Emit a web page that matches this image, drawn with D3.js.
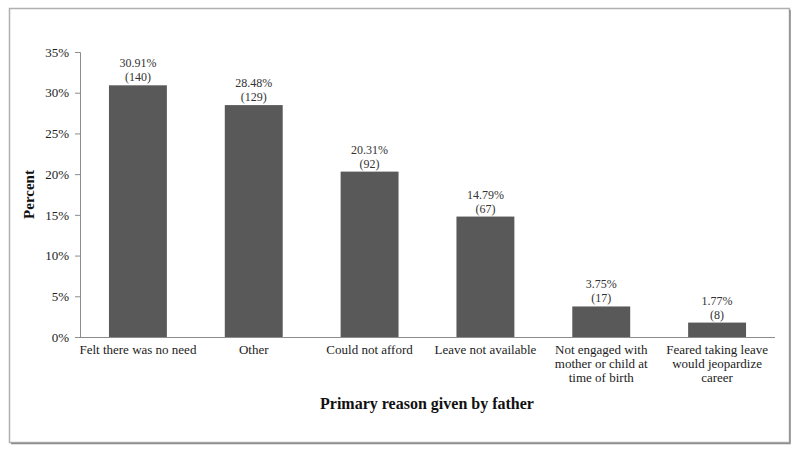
<!DOCTYPE html>
<html>
<head>
<meta charset="utf-8">
<script src="https://cdn.jsdelivr.net/npm/d3@7"></script>
<style>
  body { margin: 0; background: #fff; }
  text { font-family: "Liberation Serif", "Times New Roman", serif; }
</style>
</head>
<body>
<svg width="800" height="449"></svg>
<script>
// data
var categories = [
  ["Felt there was no need"],
  ["Other"],
  ["Could not afford"],
  ["Leave not available"],
  ["Not engaged with", "mother or child at", "time of birth"],
  ["Feared taking leave", "would jeopardize", "career"]
];
var percents = [30.91, 28.48, 20.31, 14.79, 3.75, 1.77];
var counts = [140, 129, 92, 67, 17, 8];
var yTicks = [0, 5, 10, 15, 20, 25, 30, 35];

var svg = d3.select("svg");

// outer frame with a little shadow on right/bottom
svg.append("rect")
  .attr("x", 9.5).attr("y", 8.5).attr("width", 780).attr("height", 434)
  .attr("fill", "none").attr("stroke", "#b0b0b0").attr("stroke-width", 1.5);
svg.append("path")
  .attr("d", "M790,10 V443.5 H11")
  .attr("fill", "none").attr("stroke", "#8c8c8c").attr("stroke-width", 1.5);

var plotLeft = 80, plotRight = 775, plotTop = 52, plotBottom = 337;

var x = d3.scaleBand()
  .domain(d3.range(categories.length))
  .range([plotLeft, plotRight])
  .paddingInner(0.5)
  .paddingOuter(0.25);

var y = d3.scaleLinear().domain([0, 35]).range([plotBottom, plotTop]);

// y axis
var yAxis = svg.append("g")
  .attr("transform", "translate(" + plotLeft + ",0)")
  .call(d3.axisLeft(y).tickValues(yTicks).tickSize(5).tickPadding(6)
    .tickFormat(function(d) { return d + "%"; }));
yAxis.selectAll("line, path").attr("stroke", "#8c8c8c");
yAxis.selectAll("text").attr("font-size", 13).attr("fill", "#222")
  .style("font-family", "Liberation Serif");

// bars
svg.selectAll("rect.bar")
  .data(percents)
  .enter().append("rect")
  .attr("class", "bar")
  .attr("x", function(d, i) { return x(i); })
  .attr("width", x.bandwidth())
  .attr("y", function(d) { return y(d); })
  .attr("height", function(d) { return plotBottom - y(d); })
  .attr("fill", "#595959");

// x axis baseline
svg.append("line")
  .attr("x1", plotLeft).attr("x2", plotRight)
  .attr("y1", plotBottom + 0.5).attr("y2", plotBottom + 0.5)
  .attr("stroke", "#8c8c8c");

// value labels
var lab = svg.selectAll("text.val")
  .data(percents)
  .enter().append("text")
  .attr("class", "val")
  .attr("text-anchor", "middle")
  .attr("font-size", 12)
  .attr("fill", "#333");
lab.append("tspan")
  .attr("x", function(d, i) { return x(i) + x.bandwidth() / 2; })
  .attr("y", function(d) { return y(d) - 18; })
  .text(function(d) { return d.toFixed(2) + "%"; });
lab.append("tspan")
  .attr("x", function(d, i) { return x(i) + x.bandwidth() / 2; })
  .attr("y", function(d) { return y(d) - 4; })
  .text(function(d, i) { return "(" + counts[i] + ")"; });

// category labels
svg.selectAll("text.cat")
  .data(categories)
  .enter().append("text")
  .attr("class", "cat")
  .attr("text-anchor", "middle")
  .attr("font-size", 13)
  .attr("fill", "#222")
  .each(function(lines, i) {
    var t = d3.select(this);
    lines.forEach(function(s, j) {
      t.append("tspan")
        .attr("x", x(i) + x.bandwidth() / 2)
        .attr("y", 354 + j * 14)
        .text(s);
    });
  });

// axis titles
svg.append("text")
  .attr("transform", "translate(34," + ((plotTop + plotBottom) / 2) + ") rotate(-90)")
  .attr("text-anchor", "middle")
  .attr("font-size", 15).attr("font-weight", "bold")
  .attr("fill", "#111")
  .text("Percent");

svg.append("text")
  .attr("x", 427).attr("y", 409)
  .attr("text-anchor", "middle")
  .attr("font-size", 16).attr("font-weight", "bold")
  .attr("fill", "#111")
  .text("Primary reason given by father");
</script>
</body>
</html>
